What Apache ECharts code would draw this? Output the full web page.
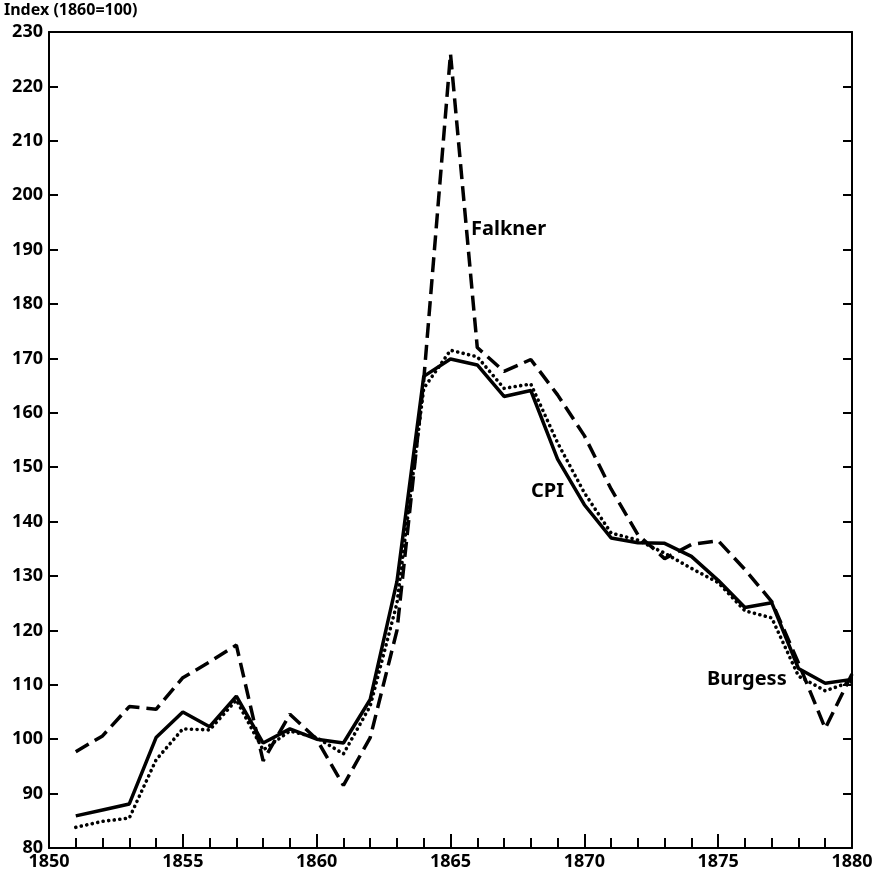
<!DOCTYPE html>
<html>
<head>
<meta charset="utf-8">
<script src="https://cdn.jsdelivr.net/npm/echarts@6/dist/echarts.min.js"></script>
<style>
html,body{margin:0;padding:0;background:#fff;}
#chart{width:879px;height:874px;}
</style>
</head>
<body>
<div id="chart"></div>
<script>
var years = [1851,1852,1853,1854,1855,1856,1857,1858,1859,1860,1861,1862,1863,1864,1865,1866,1867,1868,1869,1870,1871,1872,1873,1874,1875,1876,1877,1878,1879,1880];
var cpi = [85.9,87,88.1,100.3,105,102.3,107.9,99.3,101.9,100,99.3,107.3,129,166.7,169.9,168.8,163,164.1,151.5,143.1,137,136.1,136,133.6,129.2,124.2,125.1,113,110.3,111];
var burgess = [83.8,84.9,85.5,96.2,101.9,101.7,107.2,98,101.5,100.3,97.3,106.1,125,164.5,171.5,170.3,164.5,165.3,154.5,145.3,137.9,136.6,134.2,131.4,128.8,123.6,122.3,111.6,108.9,110.6];
var falkner = [97.7,100.6,106,105.5,111.3,114.2,117.3,96,104.6,100,91.5,100.3,120,166,226,172,167.6,169.8,163.3,155.8,146,137.6,133.2,135.8,136.5,131.2,125.3,114,102,112];
var yTitle = 'Index (1860=100)';
var seriesLabels = ['Falkner', 'CPI', 'Burgess'];

function pairs(v){ return years.map(function(y,i){ return [y, v[i]]; }); }

var chart = echarts.init(document.getElementById('chart'));
var font = '"Noto Sans", sans-serif';
var axisLabelStyle = {color:'#000', fontFamily:font, fontSize:18, fontWeight:'bold'};
var lblFont = 'bold 20px "Noto Sans", sans-serif';
chart.setOption({
  animation:false,
  backgroundColor:'#fff',
  grid:{left:49, right:27, top:32, bottom:26},
  xAxis:[{
    type:'value', min:1850, max:1880, interval:5, position:'bottom',
    axisLine:{show:true, lineStyle:{color:'#000', width:2}},
    axisTick:{show:true, inside:true, length:14, lineStyle:{color:'#000', width:2}},
    minorTick:{show:true, splitNumber:5, length:10, lineStyle:{color:'#000', width:2}},
    axisLabel:Object.assign({margin:5, formatter:function(v){return String(v);}}, axisLabelStyle),
    splitLine:{show:false}
  },{
    type:'value', min:1850, max:1880, position:'top',
    axisLine:{show:true, lineStyle:{color:'#000', width:2}},
    axisTick:{show:false}, axisLabel:{show:false}, splitLine:{show:false}
  }],
  yAxis:[{
    type:'value', min:80, max:230, interval:10, position:'left',
    axisLine:{show:true, lineStyle:{color:'#000', width:2}},
    axisTick:{show:true, inside:true, length:9, lineStyle:{color:'#000', width:2}},
    axisLabel:Object.assign({margin:6}, axisLabelStyle),
    splitLine:{show:false}
  },{
    type:'value', min:80, max:230, interval:10, position:'right',
    axisLine:{show:true, lineStyle:{color:'#000', width:2}},
    axisTick:{show:true, inside:true, length:9, lineStyle:{color:'#000', width:2}},
    axisLabel:{show:false}, splitLine:{show:false}
  }],
  series:[{
    name:seriesLabels[0], type:'line', data:pairs(falkner), showSymbol:false, symbol:'none',
    lineStyle:{color:'#000', width:3.5, type:[15,7]}, z:3
  },{
    name:seriesLabels[1], type:'line', data:pairs(cpi), showSymbol:false, symbol:'none',
    lineStyle:{color:'#000', width:3.5, type:'solid'}, z:4
  },{
    name:seriesLabels[2], type:'line', data:pairs(burgess), showSymbol:false, symbol:'none',
    lineStyle:{color:'#000', width:3.6, type:[0.1,5.5], cap:'round'}, z:2
  }],
  graphic:[
    {type:'text', left:4, top:2, style:{text:yTitle, fill:'#000', font:'bold 16px "Noto Sans", sans-serif'}},
    {type:'text', left:471, top:219, style:{text:seriesLabels[0], fill:'#000', font:lblFont}},
    {type:'text', left:531, top:481, style:{text:seriesLabels[1], fill:'#000', font:lblFont}},
    {type:'text', left:707, top:669, style:{text:seriesLabels[2], fill:'#000', font:lblFont}}
  ]
});
</script>
</body>
</html>
